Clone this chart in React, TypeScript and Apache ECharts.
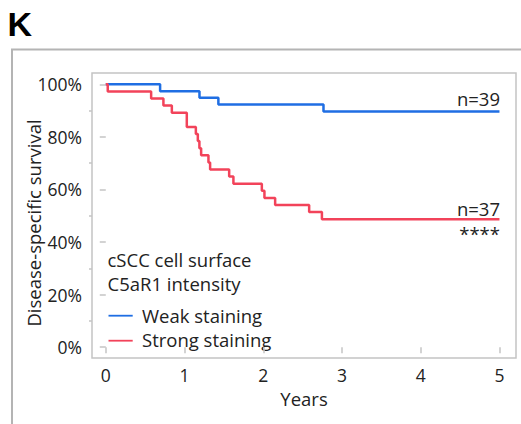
import React, { useEffect, useRef } from "react";
import * as echarts from "echarts";

const weakData: [number, number][] = [
  [0, 100], [0.69, 97.4], [1.19, 94.9], [1.43, 92.3], [2.765, 89.7], [5, 89.7],
];
const strongData: [number, number][] = [
  [0, 100], [0.025, 97.3], [0.576, 94.6], [0.732, 91.9], [0.839, 89.2], [1.029, 83.8],
  [1.144, 81.1], [1.169, 78.4], [1.189, 75.7], [1.211, 73.0], [1.304, 70.3], [1.325, 67.6],
  [1.567, 64.9], [1.621, 62.2], [1.982, 59.5], [2.015, 56.8], [2.151, 54.1], [2.583, 51.4],
  [2.745, 48.7], [5, 48.7],
];
const xTicks = [0, 1, 2, 3, 4, 5];
const yMajor = [0, 20, 40, 60, 80, 100];
const yMinor = [10, 30, 50, 70, 90];
const seriesNames = ["Weak staining", "Strong staining"];
const nLabels = ["n=39", "n=37"];
const sigLabel = "****";
const legendTitle = ["cSCC cell surface", "C5aR1 intensity"];
const xTitle = "Years";
const yTitle = "Disease-specific survival";

const FONT = "'Open Sans', 'Noto Sans', sans-serif";
const BLUE = "#1f6ee3";
const RED = "#f2435a";
const GRAY = "#222";
const AX = "#c4c4c4";

export default function App() {
  const ref = useRef<HTMLDivElement>(null);
  useEffect(() => {
    if (!ref.current) return;
    const chart = echarts.init(ref.current, null, { renderer: "svg" });
    const yBase = {
      type: "value",
      min: -4.1,
      max: 104.3,
      position: "left",
      axisLine: { show: false },
      splitLine: { show: false },
    };
    const t = (text: string, x: number, y: number, align = "left", size = 18.5) => ({
      type: "text", x, y,
      style: { text, font: `${size}px ${FONT}`, fill: GRAY, align, verticalAlign: "middle" },
    });
    chart.setOption({
      animation: false,
      backgroundColor: "#fff",
      textStyle: { fontFamily: FONT },
      grid: {
        left: 92, top: 73, right: 5, bottom: 66,
        show: true, borderColor: AX, borderWidth: 1.5, backgroundColor: "#fff",
      },
      xAxis: {
        type: "value",
        min: -0.175,
        max: 5.21,
        name: xTitle,
        nameLocation: "middle",
        nameGap: 31,
        nameTextStyle: { fontSize: 18.5, color: GRAY, fontFamily: FONT },
        axisLine: { show: false },
        splitLine: { show: false },
        axisTick: { show: true, customValues: xTicks, length: 6, lineStyle: { color: AX, width: 1.5 } },
        axisLabel: { customValues: xTicks, margin: 8, fontSize: 17.5, color: GRAY, fontFamily: FONT },
      },
      yAxis: [
        {
          ...yBase,
          axisTick: { show: true, customValues: yMajor, length: 6, lineStyle: { color: AX, width: 1.5 } },
          axisLabel: {
            customValues: yMajor, margin: 10, fontSize: 17.5, color: GRAY, fontFamily: FONT,
            formatter: (v: number) => `${v}%`,
          },
        },
        {
          ...yBase,
          axisTick: { show: true, customValues: yMinor, length: 3, lineStyle: { color: AX, width: 1.5 } },
          axisLabel: { show: false },
        },
      ],
      series: [
        {
          name: seriesNames[0], type: "line", step: "end", data: weakData, symbol: "none",
          lineStyle: { color: BLUE, width: 2.5 }, itemStyle: { color: BLUE }, z: 3,
        },
        {
          name: seriesNames[1], type: "line", step: "end", data: strongData, symbol: "none",
          lineStyle: { color: RED, width: 2.5 }, itemStyle: { color: RED }, z: 4,
        },
      ],
      graphic: [
        { type: "polyline", shape: { points: [[12, 424], [12, 49.5], [521, 49.5]] }, style: { stroke: "#b4b4b4", lineWidth: 2, fill: "none" }, silent: true },
        { type: "text", x: 7.5, y: 24, style: { text: "K", font: "bold 34px 'Liberation Sans', Arial, sans-serif", fill: "#000", verticalAlign: "middle" } },
        {
          type: "text", x: 33, y: 223, rotation: Math.PI / 2,
          style: { text: yTitle, font: `18.5px ${FONT}`, fill: GRAY, align: "center", verticalAlign: "middle" },
        },
        t(nLabels[0], 500, 98, "right"),
        t(nLabels[1], 500, 208, "right"),
        t(sigLabel, 500, 233, "right"),
        t(legendTitle[0], 107.5, 259.5),
        t(legendTitle[1], 107.5, 283),
        { type: "line", shape: { x1: 108.5, y1: 315.7, x2: 132.7, y2: 315.7 }, style: { stroke: BLUE, lineWidth: 1.8 } },
        t(seriesNames[0], 142, 315.5),
        { type: "line", shape: { x1: 108.5, y1: 340.7, x2: 132.7, y2: 340.7 }, style: { stroke: RED, lineWidth: 1.8 } },
        t(seriesNames[1], 142, 339.5),
      ],
    });
    return () => chart.dispose();
  }, []);
  return <div ref={ref} style={{ position: "fixed", left: 0, top: 0, width: 521, height: 424 }} />;
}
